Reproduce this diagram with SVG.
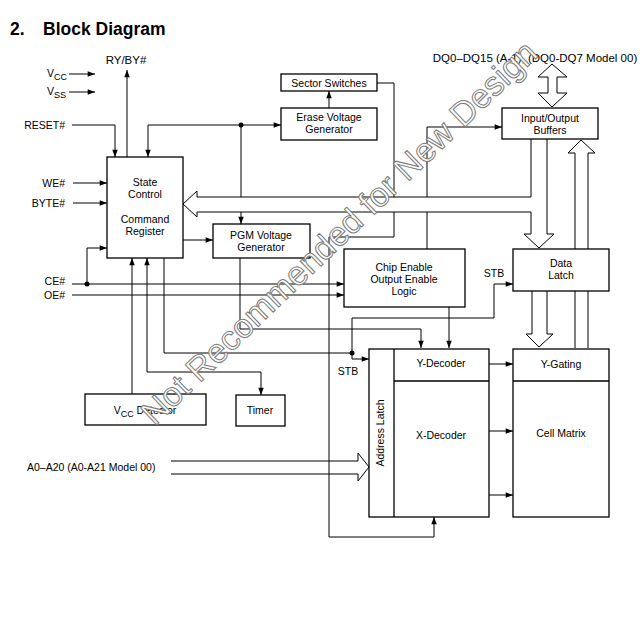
<svg xmlns="http://www.w3.org/2000/svg" width="640" height="640" viewBox="0 0 640 640">
<defs>
<marker id="ah" viewBox="0 0 8 6" refX="8" refY="3" markerWidth="8" markerHeight="5.5" markerUnits="userSpaceOnUse" orient="auto-start-reverse"><path d="M0,0 L8,3 L0,6 z" fill="#000"/></marker>
</defs>
<style>
text{font-family:"Liberation Sans",Arial,sans-serif;font-size:10.5px;fill:#000}
.c{text-anchor:middle}
.r{text-anchor:end}
.box{fill:#fff;stroke:#000;stroke-width:1.3}
.ln{fill:none;stroke:#000;stroke-width:1}
.arr{marker-end:url(#ah)}
.both{marker-start:url(#ah);marker-end:url(#ah)}
.wide{fill:#fff;stroke:#000;stroke-width:1}
.dot{fill:#000}
.wm{font-size:34px;fill:#fff;stroke:#7a7a7a;stroke-width:1;text-anchor:middle}
</style>
<rect width="640" height="640" fill="#fff"/>
<text x="10" y="35" style="font-size:17.5px;font-weight:bold">2.</text>
<text x="43" y="35" style="font-size:17.5px;font-weight:bold">Block Diagram</text>

<g id="connectors">
<path class="ln arr" d="M69,74 H95"/>
<path class="ln arr" d="M69,92 H95"/>
<path class="ln arr" d="M127,157 V70"/>
<path class="ln arr" d="M72,125 H115 V157"/>
<path class="ln arr" d="M73,183 H107"/>
<path class="ln arr" d="M73,203 H107"/>
<path class="ln arr" d="M87,284 V248 H107"/>
<path class="ln arr" d="M72,284 H344"/>
<path class="ln arr" d="M72,295 H344"/>
<path class="ln both" d="M148,157 V125 H281"/>
<path class="ln arr" d="M241,125 V224"/>
<path class="ln arr" d="M329,108 V91"/>
<path class="ln arr" d="M377,83 H394 V237 H329 V537 H434 V517"/>
<path class="ln arr" d="M183,240 H213"/>
<path class="ln arr" d="M132,394 V258"/>
<path class="ln both" d="M147,258 V372 H261 V395"/>
<path class="ln" d="M164,258 V353 H352"/>
<path class="ln arr" d="M352,353 V359 H369"/>
<path class="ln arr" d="M352,353 V318 H494 V284 H513"/>
<path class="ln arr" d="M240,258 V329 H421 V348"/>
<path class="ln arr" d="M449,307 V348"/>
<path class="ln arr" d="M427,249 V127 H502"/>
<path class="ln arr" d="M489,364 H513"/>
<path class="ln arr" d="M489,431 H513"/>
<path class="ln arr" d="M489,495 H513"/>
<circle class="dot" cx="87" cy="284" r="2.5"/>
<circle class="dot" cx="241" cy="125" r="2.5"/>
<circle class="dot" cx="352" cy="353" r="2.5"/>
<path class="wide" d="M531,139 V197 H197 V191 L183,204 L197,217 V212 H531 V234 H524 L539,248 L554,234 H547 V139"/>
<path class="wide" d="M575,348 V153 H568 L581,140 L595,153 H588 V348"/>
<path class="wide" d="M532,291 V334 H526 L539,347 L553,334 H547 V291"/>
<path class="wide" d="M548,77 H538 L552,64 L567,77 H557 V93 H567 L552,107 L538,93 H548 Z"/>
<path class="ln" d="M171,461 H358 V453 L369,467 L358,481 V474 H171"/>
</g>

<g id="labels">
<text x="126" y="64" class="c" style="font-size:11.5px">RY/BY#</text>
<text x="47" y="77">V<tspan dy="3" style="font-size:9px">CC</tspan></text>
<text x="47" y="95">V<tspan dy="3" style="font-size:9px">SS</tspan></text>
<text x="65" y="129" class="r">RESET#</text>
<text x="65" y="187" class="r">WE#</text>
<text x="65" y="207" class="r">BYTE#</text>
<text x="65" y="285" class="r">CE#</text>
<text x="65" y="299" class="r">OE#</text>
<text x="535" y="62" class="c" style="font-size:11.5px">DQ0–DQ15 (A-1), (DQ0-DQ7 Model 00)</text>
<text x="494" y="277" class="c">STB</text>
<text x="348" y="375" class="c">STB</text>
<text x="27" y="471">A0–A20 (A0-A21 Model 00)</text>
</g>

<g id="state-control">
<rect class="box" x="107" y="157" width="76" height="101"/>
<text x="145" y="186" class="c">State</text>
<text x="145" y="198" class="c">Control</text>
<text x="145" y="223" class="c">Command</text>
<text x="145" y="235" class="c">Register</text>
</g>
<g id="sector-switches">
<rect class="box" x="281" y="74" width="96" height="17"/>
<text x="329" y="87" class="c">Sector Switches</text>
</g>
<g id="erase-voltage">
<rect class="box" x="281" y="108" width="96" height="32"/>
<text x="329" y="121" class="c">Erase Voltage</text>
<text x="329" y="133" class="c">Generator</text>
</g>
<g id="pgm-voltage">
<rect class="box" x="213" y="224" width="97" height="34"/>
<text x="261" y="239" class="c">PGM Voltage</text>
<text x="261" y="251" class="c">Generator</text>
</g>
<g id="io-buffers">
<rect class="box" x="502" y="108" width="96" height="31"/>
<text x="550" y="122" class="c">Input/Output</text>
<text x="550" y="134" class="c">Buffers</text>
</g>
<g id="data-latch">
<rect class="box" x="513" y="249" width="96" height="42"/>
<text x="561" y="267" class="c">Data</text>
<text x="561" y="279" class="c">Latch</text>
</g>
<g id="chip-enable">
<rect class="box" x="344" y="249" width="121" height="58"/>
<text x="404" y="271" class="c">Chip Enable</text>
<text x="404" y="283" class="c">Output Enable</text>
<text x="404" y="295" class="c">Logic</text>
</g>
<g id="decoder">
<rect class="box" x="369" y="349" width="120" height="168"/>
<path class="ln" d="M394,349 V517 M394,381 H489" style="stroke-width:1.3"/>
<text x="441" y="367" class="c">Y-Decoder</text>
<text x="441" y="439" class="c">X-Decoder</text>
<text x="0" y="0" class="c" transform="translate(384,433) rotate(-90)">Address Latch</text>
</g>
<g id="cell-matrix">
<rect class="box" x="513" y="349" width="96" height="168"/>
<path class="ln" d="M513,381 H609" style="stroke-width:1.3"/>
<text x="561" y="368" class="c">Y-Gating</text>
<text x="561" y="437" class="c">Cell Matrix</text>
</g>
<g id="vcc-detector">
<rect class="box" x="85" y="394" width="121" height="31"/>
<text x="145" y="414" class="c">V<tspan dy="3" style="font-size:9px">CC</tspan><tspan dy="-3"> Detector</tspan></text>
</g>
<g id="timer">
<rect class="box" x="236" y="395" width="49" height="31"/>
<text x="260" y="414" class="c">Timer</text>
</g>

<text class="wm" x="347" y="241" transform="rotate(-44 347 241)">Not Recommended for New Design</text>
</svg>
